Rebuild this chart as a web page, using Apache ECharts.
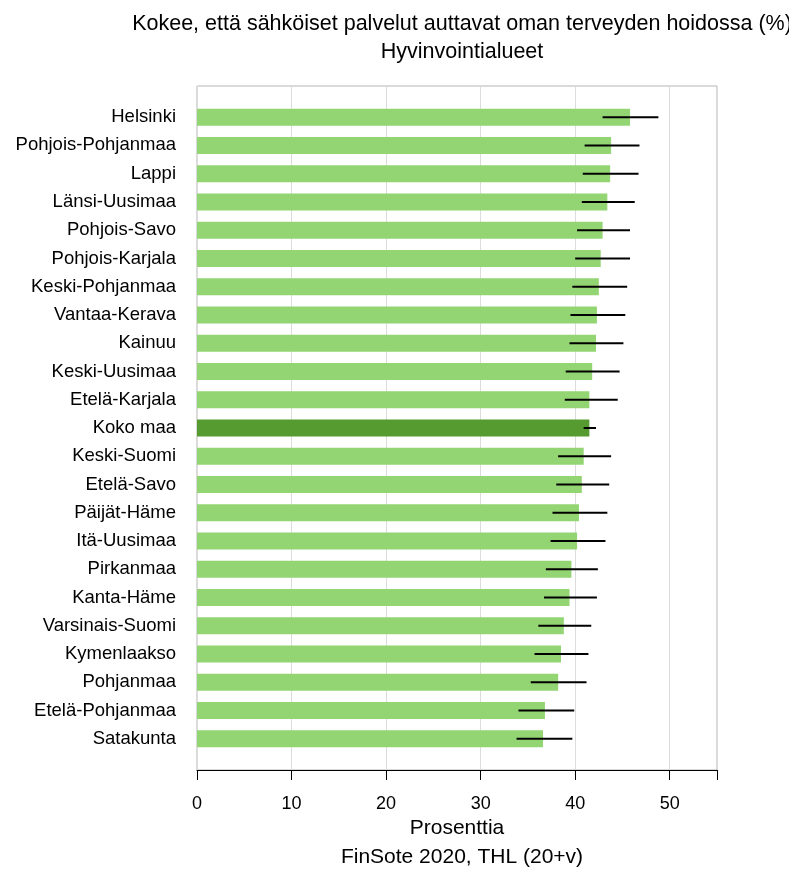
<!DOCTYPE html>
<html>
<head>
<meta charset="utf-8">
<script src="https://cdn.jsdelivr.net/npm/echarts@6/dist/echarts.min.js"></script>
<style>
  html, body { margin: 0; padding: 0; background: #fff; }
  #chart { width: 789px; height: 869px; }
</style>
</head>
<body>
<div id="chart"></div>
<script>
// Wellbeing services counties, top to bottom
const regions = [
  'Helsinki', 'Pohjois-Pohjanmaa', 'Lappi', 'Länsi-Uusimaa', 'Pohjois-Savo',
  'Pohjois-Karjala', 'Keski-Pohjanmaa', 'Vantaa-Kerava', 'Kainuu', 'Keski-Uusimaa',
  'Etelä-Karjala', 'Koko maa', 'Keski-Suomi', 'Etelä-Savo', 'Päijät-Häme',
  'Itä-Uusimaa', 'Pirkanmaa', 'Kanta-Häme', 'Varsinais-Suomi', 'Kymenlaakso',
  'Pohjanmaa', 'Etelä-Pohjanmaa', 'Satakunta'
];
// Share (%) of respondents
const values = [
  45.8, 43.8, 43.7, 43.4, 42.9,
  42.7, 42.5, 42.3, 42.2, 41.8,
  41.5, 41.5, 40.9, 40.7, 40.4,
  40.2, 39.6, 39.4, 38.8, 38.5,
  38.2, 36.8, 36.6
];
// 95 % confidence interval, lower and upper bounds
const ciLow = [
  42.9, 41.0, 40.8, 40.7, 40.2,
  40.0, 39.7, 39.5, 39.4, 39.0,
  38.9, 40.9, 38.2, 38.0, 37.6,
  37.4, 36.9, 36.7, 36.1, 35.7,
  35.3, 34.0, 33.8
];
const ciHigh = [
  48.8, 46.8, 46.7, 46.3, 45.8,
  45.8, 45.5, 45.3, 45.1, 44.7,
  44.5, 42.2, 43.8, 43.6, 43.4,
  43.2, 42.4, 42.3, 41.7, 41.4,
  41.2, 39.9, 39.7
];
const xTicks = [0, 10, 20, 30, 40, 50];

const LIGHT = '#92d572';
const DARK = '#569b2f';
const FONT = '"Liberation Sans", Arial, sans-serif';

const chart = echarts.init(document.getElementById('chart'), null, { renderer: 'canvas' });

const option = {
  animation: false,
  backgroundColor: '#ffffff',
  title: [
    {
      text: 'Kokee, että sähköiset palvelut auttavat oman terveyden hoidossa (%)\nHyvinvointialueet',
      left: 457, top: 5, textAlign: 'center',
      textStyle: { fontFamily: FONT, fontSize: 21.5, fontWeight: 'normal', color: '#000', lineHeight: 28 }
    },
    {
      text: 'FinSote 2020, THL (20+v)',
      left: 457, top: 840, textAlign: 'center',
      textStyle: { fontFamily: FONT, fontSize: 21, fontWeight: 'normal', color: '#000', lineHeight: 24 }
    }
  ],
  grid: [
    // outer frame with value gridlines
    { left: 197, right: 72, top: 86, bottom: 99, show: true, borderColor: '#b5b5b5', borderWidth: 1 },
    // inner band where the bars are placed
    { left: 197, right: 72, top: 103, bottom: 116 }
  ],
  xAxis: [
    {
      gridIndex: 0, type: 'value', min: 0, max: 55, interval: 10,
      name: 'Prosenttia', nameLocation: 'middle', nameGap: 46,
      nameTextStyle: { fontFamily: FONT, fontSize: 21, color: '#000' },
      axisLine: { show: true, lineStyle: { color: '#000', width: 1 } },
      axisTick: { show: true, length: 10, lineStyle: { color: '#000' } },
      axisLabel: {
        fontFamily: FONT, fontSize: 18, color: '#000', margin: 25,
        formatter: v => (xTicks.indexOf(v) >= 0 ? String(v) : '')
      },
      splitLine: { show: true, lineStyle: { color: '#dcdcdc', width: 1 } }
    },
    { gridIndex: 1, type: 'value', min: 0, max: 55, show: false, splitLine: { show: false } }
  ],
  yAxis: [
    { gridIndex: 0, type: 'category', data: ['x'], show: false },
    {
      gridIndex: 1, type: 'category', data: regions, inverse: true,
      axisLine: { show: false }, axisTick: { show: false },
      axisLabel: { fontFamily: FONT, fontSize: 18.5, color: '#000', margin: 21 }
    }
  ],
  series: [
    {
      type: 'bar', xAxisIndex: 1, yAxisIndex: 1, barWidth: 17,
      data: values.map((v, i) => ({
        value: v,
        itemStyle: { color: regions[i] === 'Koko maa' ? DARK : LIGHT }
      }))
    },
    {
      type: 'custom', xAxisIndex: 1, yAxisIndex: 1,
      data: regions.map((r, i) => [i, ciLow[i], ciHigh[i]]),
      renderItem: function (params, api) {
        const idx = api.value(0);
        const a = api.coord([api.value(1), idx]);
        const b = api.coord([api.value(2), idx]);
        return {
          type: 'line',
          shape: { x1: a[0], y1: a[1], x2: b[0], y2: b[1] },
          style: { stroke: '#000', lineWidth: 2 }
        };
      },
      z: 5
    }
  ]
};

chart.setOption(option);
</script>
</body>
</html>
